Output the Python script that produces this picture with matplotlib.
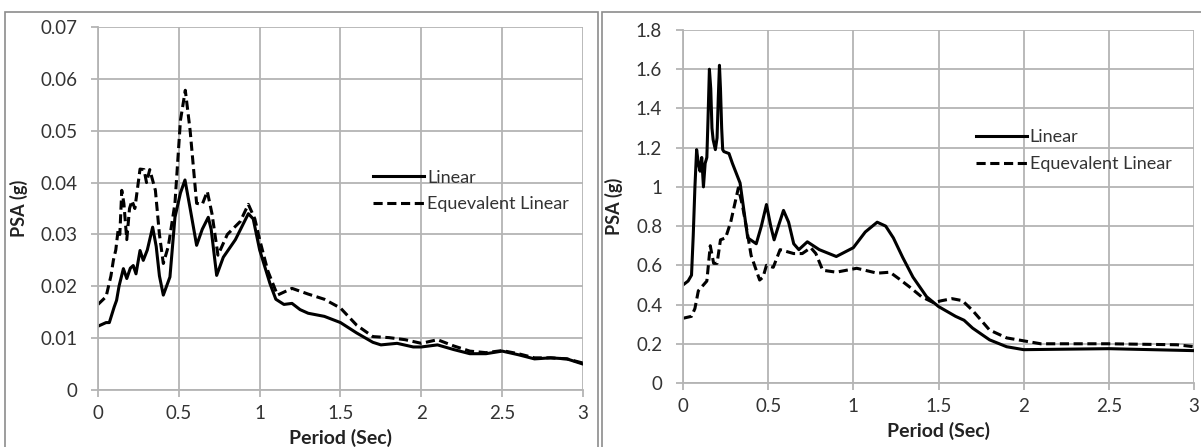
import matplotlib
matplotlib.use("Agg")
import matplotlib.pyplot as plt
from matplotlib.patches import Rectangle

plt.rcParams['font.family'] = ['Lato', 'DejaVu Sans']

# ---- Left panel data ----
left_lin_x = [0, 0.05, 0.07, 0.1, 0.115, 0.13, 0.157, 0.178, 0.2, 0.218, 0.235, 0.26, 0.28, 0.305,
              0.338, 0.36, 0.38, 0.404, 0.445, 0.476, 0.51, 0.538, 0.57, 0.61, 0.645, 0.682,
              0.7, 0.734, 0.775, 0.85, 0.93, 0.96, 1.0, 1.064, 1.1, 1.15, 1.2, 1.25, 1.3, 1.4,
              1.5, 1.6, 1.7, 1.75, 1.85, 1.95, 2.0, 2.1, 2.2, 2.3, 2.4, 2.5, 2.6, 2.7, 2.8,
              2.9, 3.0]
left_lin_y = [0.0123, 0.013, 0.013, 0.016, 0.0173, 0.02, 0.0234, 0.0215, 0.0235, 0.024, 0.0224,
              0.0269, 0.025, 0.027, 0.0314, 0.0277, 0.022, 0.0183, 0.0218, 0.0333, 0.038, 0.0405,
              0.035, 0.0279, 0.031, 0.0333, 0.031, 0.0221, 0.0256, 0.029, 0.034, 0.033, 0.027,
              0.0205, 0.0175, 0.0165, 0.0167, 0.0155, 0.0148, 0.0142, 0.013, 0.011, 0.0092,
              0.0087, 0.009, 0.0083, 0.0083, 0.0087, 0.0078, 0.007, 0.007, 0.0075, 0.0068, 0.006,
              0.0062, 0.006, 0.005]

left_eq_x = [0, 0.05, 0.08, 0.095, 0.11, 0.125, 0.135, 0.147, 0.16, 0.178, 0.195, 0.21, 0.228,
             0.26, 0.285, 0.3, 0.32, 0.355, 0.38, 0.404, 0.435, 0.476, 0.51, 0.54, 0.57, 0.61,
             0.645, 0.676, 0.705, 0.742, 0.8, 0.88, 0.93, 0.97, 1.0, 1.05, 1.11, 1.2, 1.3, 1.4,
             1.5, 1.6, 1.7, 1.8, 1.9, 2.0, 2.1, 2.2, 2.3, 2.4, 2.5, 2.6, 2.7, 2.8, 2.9, 3.0]
left_eq_y = [0.0165, 0.018, 0.022, 0.025, 0.027, 0.031, 0.03, 0.0385, 0.036, 0.029, 0.035, 0.0365,
             0.035, 0.0426, 0.0425, 0.04, 0.0425, 0.0385, 0.03, 0.0244, 0.0277, 0.036, 0.052,
             0.0578, 0.05, 0.036, 0.0358, 0.0383, 0.034, 0.026, 0.03, 0.0325, 0.0358, 0.033,
             0.029, 0.023, 0.0183, 0.0196, 0.0185, 0.0175, 0.0158, 0.0125, 0.0103, 0.0101,
             0.0097, 0.009, 0.0097, 0.0085, 0.0075, 0.0072, 0.0076, 0.007, 0.0062, 0.0062,
             0.006, 0.0052]

# ---- Right panel data ----
right_lin_x = [0, 0.03, 0.05, 0.06, 0.07, 0.08, 0.09, 0.1, 0.11, 0.12, 0.13, 0.14, 0.147, 0.155,
               0.163, 0.17, 0.177, 0.19, 0.2, 0.207, 0.214, 0.22, 0.227, 0.233, 0.24, 0.27,
               0.29, 0.335, 0.38, 0.43, 0.46, 0.49, 0.515, 0.535, 0.56, 0.59, 0.62, 0.65, 0.68,
               0.73, 0.8, 0.9, 1.0, 1.07, 1.14, 1.19, 1.235, 1.29, 1.35, 1.43, 1.5, 1.6, 1.65,
               1.7, 1.8, 1.9, 2.0, 2.5, 3.0]
right_lin_y = [0.5, 0.52, 0.55, 0.75, 1.0, 1.19, 1.12, 1.08, 1.15, 1.0, 1.12, 1.15, 1.35, 1.6,
               1.5, 1.3, 1.24, 1.19, 1.25, 1.45, 1.62, 1.5, 1.3, 1.19, 1.18, 1.17, 1.12, 1.02,
               0.74, 0.71, 0.8, 0.91, 0.8, 0.73, 0.8, 0.88, 0.82, 0.71, 0.68, 0.72, 0.68, 0.645,
               0.69, 0.77, 0.82, 0.8, 0.74, 0.64, 0.54, 0.44, 0.39, 0.34, 0.32, 0.28, 0.22,
               0.185, 0.17, 0.175, 0.165]

right_eq_x = [0, 0.05, 0.07, 0.09, 0.12, 0.14, 0.16, 0.18, 0.2, 0.22, 0.25, 0.28, 0.325, 0.35,
              0.375, 0.4, 0.45, 0.47, 0.49, 0.53, 0.57, 0.65, 0.7, 0.75, 0.78, 0.82, 0.9, 1.02,
              1.14, 1.215, 1.27, 1.33, 1.4, 1.47, 1.52, 1.58, 1.64, 1.7, 1.8, 1.9, 2.0, 2.1,
              2.5, 2.9, 3.0]
right_eq_y = [0.33, 0.34, 0.38, 0.47, 0.5, 0.52, 0.7, 0.61, 0.61, 0.73, 0.74, 0.82, 0.995, 0.9,
              0.78, 0.65, 0.525, 0.54, 0.6, 0.59, 0.68, 0.66, 0.66, 0.69, 0.66, 0.575, 0.565,
              0.585, 0.56, 0.565, 0.53, 0.49, 0.44, 0.41, 0.42, 0.43, 0.42, 0.37, 0.27, 0.23,
              0.215, 0.2, 0.2, 0.195, 0.185]

x_ticks = [0, 0.5, 1, 1.5, 2, 2.5, 3]
x_tick_labels = ['0', '0.5', '1', '1.5', '2', '2.5', '3']
left_y_ticks = [0, 0.01, 0.02, 0.03, 0.04, 0.05, 0.06, 0.07]
left_y_labels = ['0', '0.01', '0.02', '0.03', '0.04', '0.05', '0.06', '0.07']
right_y_ticks = [0, 0.2, 0.4, 0.6, 0.8, 1.0, 1.2, 1.4, 1.6, 1.8]
right_y_labels = ['0', '0.2', '0.4', '0.6', '0.8', '1', '1.2', '1.4', '1.6', '1.8']
series_names = ['Linear', 'Equevalent Linear']

W, H = 1201, 447
fig = plt.figure(figsize=(W / 100, H / 100), dpi=100)

# panel borders
fig.patches.append(Rectangle((5 / W, -0.05), 593 / W, 1.05 - 12 / H, transform=fig.transFigure,
                             fill=False, edgecolor='#8c8c8c', linewidth=1.2))
fig.patches.append(Rectangle((602 / W, -0.05), 620 / W, 1.05 - 12 / H, transform=fig.transFigure,
                             fill=False, edgecolor='#8c8c8c', linewidth=1.2))

axL = fig.add_axes([98 / W, 1 - 390 / H, (583 - 98) / W, (390 - 27) / H])
axR = fig.add_axes([683 / W, 1 - 383 / H, (1194 - 683) / W, (383 - 30) / H])

grid_c = '#b4b4b4'

def style(ax, yt, yl, ymax):
    ax.set_xlim(0, 3)
    ax.set_ylim(0, ymax)
    ax.set_xticks(x_ticks)
    ax.set_xticklabels(x_tick_labels)
    ax.set_yticks(yt)
    ax.set_yticklabels(yl)
    ax.grid(True, color=grid_c, linewidth=1.3)
    ax.set_axisbelow(True)
    for s in ax.spines.values():
        s.set_visible(False)
    for side in ('left', 'bottom'):
        ax.spines[side].set_visible(True)
        ax.spines[side].set_color(grid_c)
        ax.spines[side].set_linewidth(1.3)
    ax.tick_params(axis='both', colors=grid_c, labelcolor='#333333', labelsize=13.5,
                   length=5, width=1.3)
    ax.tick_params(axis='x', pad=6)
    ax.tick_params(axis='y', pad=10)
    ax.set_ylabel('PSA (g)', fontsize=13, fontweight='bold', color='#222222', labelpad=9)
    ax.set_xlabel('Period (Sec)', fontsize=14, fontweight='bold', color='#222222', labelpad=5)

style(axL, left_y_ticks, left_y_labels, 0.07)
style(axR, right_y_ticks, right_y_labels, 1.8)

for ax, lx, ly, ex, ey, lpos in [
    (axL, left_lin_x, left_lin_y, left_eq_x, left_eq_y, (0.548, 0.632)),
    (axR, right_lin_x, right_lin_y, right_eq_x, right_eq_y, (0.555, 0.745)),
]:
    ax.plot(lx, ly, color='black', linewidth=2.2, label=series_names[0])
    ax.plot(ex, ey, color='black', linewidth=2.2, linestyle=(0, (3, 1.5)), label=series_names[1])
    ax.legend(loc='upper left', bbox_to_anchor=lpos, frameon=False, fontsize=13,
              handlelength=2.85, handletextpad=0.15, labelspacing=0.6, borderpad=0,
              labelcolor='#333333')

plt.savefig('out.png', dpi=100)
